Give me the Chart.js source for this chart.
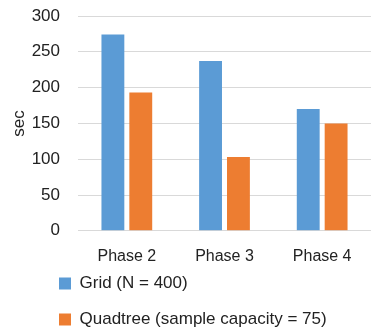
<!DOCTYPE html>
<html><head><meta charset="utf-8">
<script src="https://cdn.jsdelivr.net/npm/chart.js@4/dist/chart.umd.min.js"></script>
<style>html,body{margin:0;padding:0;background:#fff}#w{width:372px;height:332px}</style>
</head><body><div id="w"><canvas id="c"></canvas></div>
<script>
const categories = ["Phase 2", "Phase 3", "Phase 4"];
const gridValues = [274, 237, 170];
const quadtreeValues = [193, 103, 150];
const seriesNames = ["Grid (N = 400)", "Quadtree (sample capacity = 75)"];
const yTicks = [0, 50, 100, 150, 200, 250, 300];

const FONT = "'Liberation Sans', Arial, sans-serif";
const legendShift = {
  id: 'legendShift',
  afterLayout(chart) { chart.legend.left += 40; chart.legend.top -= 26; }
};
new Chart(document.getElementById('c'), {
  type: 'bar',
  data: {
    labels: categories,
    datasets: [
      { label: seriesNames[0], data: gridValues, backgroundColor: '#5b9bd5' },
      { label: seriesNames[1], data: quadtreeValues, backgroundColor: '#ed7d31' }
    ]
  },
  options: {
    responsive: true, maintainAspectRatio: false, animation: false,
    layout: { padding: { top: 16, right: 1, left: 0, bottom: -32 } },
    datasets: { bar: { categoryPercentage: 0.571, barPercentage: 0.82 } },
    plugins: {
      legend: {
        position: 'bottom', align: 'start',
        labels: { font: { family: FONT, size: 17 }, color: '#222', boxWidth: 12, boxHeight: 12, padding: 19 }
      },
      tooltip: { enabled: false }
    },
    scales: {
      x: {
        grid: { display: false, drawTicks: false },
        border: { display: false },
        ticks: { font: { family: FONT, size: 16 }, color: '#222', padding: 16 }
      },
      y: {
        min: 0, max: 300,
        afterBuildTicks(axis) { axis.ticks = yTicks.map(v => ({ value: v })); },
        afterFit(axis) { axis.width = 78; axis.paddingTop = 0; axis.paddingBottom = 0; },
        grid: { color: '#d9d9d9', drawTicks: false },
        border: { display: false },
        ticks: { font: { family: FONT, size: 17 }, color: '#222', padding: 18 },
        title: { display: true, text: 'sec', font: { family: FONT, size: 17 }, color: '#222', padding: { top: 9, bottom: 0 } }
      }
    }
  },
  plugins: [legendShift]
});
</script></body></html>
